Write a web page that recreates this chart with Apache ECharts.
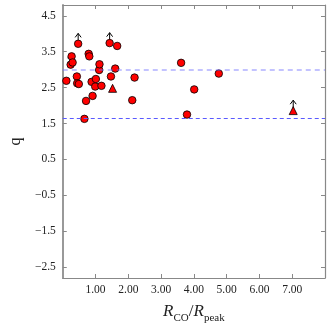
<!DOCTYPE html>
<html>
<head>
<meta charset="utf-8">
<script src="https://cdn.jsdelivr.net/npm/echarts@6/dist/echarts.min.js"></script>
<style>html,body{margin:0;padding:0;background:#fff}#c{width:329px;height:329px}</style>
</head>
<body>
<div id="c"></div>
<script>
// Circle points
var circleX = [0.11, 0.24, 0.27, 0.30, 0.47, 0.43, 0.44, 0.49, 0.79, 0.81, 0.71, 0.66, 0.88, 0.91, 0.99, 1.01, 1.11, 1.12, 1.18, 1.43, 1.47, 1.60, 1.66, 2.12, 2.19, 3.61, 4.76, 4.01, 3.79];
var circleY = [2.69, 3.14, 3.37, 3.20, 3.72, 2.81, 2.62, 2.60, 3.44, 3.37, 2.13, 1.63, 2.66, 2.27, 2.53, 2.74, 2.99, 3.15, 2.55, 3.74, 2.81, 3.03, 3.66, 2.15, 2.78, 3.19, 2.89, 2.45, 1.75];
// Triangle points
var triX = [1.52, 7.03];
var triY = [2.48, 1.86];
// Lower-limit points (arrows pointing up)
var limX = [0.24, 0.47, 1.43, 7.03];
var limY = [3.14, 3.72, 3.74, 1.86];
// Reference lines
var refLines = [3.0, 1.64];
// Tick values
var xTicks = [1, 2, 3, 4, 5, 6, 7];
var yTicks = [-2.5, -1.5, -0.5, 0.5, 1.5, 2.5, 3.5, 4.5];

var arrowLen = 0.29;
var serif = '"Liberation Serif","DejaVu Serif",serif';
var frame = '#888888';

function zip(a, b) { return a.map(function (v, i) { return [v, b[i]]; }); }

var chart = echarts.init(document.getElementById('c'), null, {renderer: 'canvas'});
var axisCommon = {
  axisLine: {show: true, onZero: false, lineStyle: {color: frame, width: 1.2}},
  axisTick: {show: true, inside: true, length: 4, lineStyle: {color: frame, width: 1}},
  splitLine: {show: false}
};
chart.setOption({
  animation: false,
  grid: {left: 45, right: 4, top: 5, bottom: 37, containLabel: false},
  xAxis: [
    Object.assign({}, axisCommon, {
      type: 'value', min: 0, max: 8, position: 'bottom',
      axisTick: Object.assign({}, axisCommon.axisTick, {customValues: xTicks}),
      axisLabel: {customValues: xTicks, color: '#222', fontFamily: serif, fontSize: 11.5, margin: 6,
        formatter: function (v) { return v.toFixed(2); }},
      name: '{i|R}{s|CO}{n|/}{i|R}{s|peak}', nameLocation: 'middle', nameGap: 24,
      nameTextStyle: {
        color: '#222', fontFamily: serif,
        rich: {
          i: {fontFamily: serif, fontStyle: 'italic', fontSize: 17, color: '#222', verticalAlign: 'bottom', lineHeight: 18},
          n: {fontFamily: serif, fontSize: 17, color: '#222', verticalAlign: 'bottom', lineHeight: 18},
          s: {fontFamily: serif, fontSize: 11, color: '#222', verticalAlign: 'bottom', lineHeight: 11, padding: [0, 0, -4, 0]}
        }
      }
    }),
    Object.assign({}, axisCommon, {
      type: 'value', min: 0, max: 8, position: 'top',
      axisTick: Object.assign({}, axisCommon.axisTick, {customValues: xTicks}),
      axisLabel: {show: false}
    })
  ],
  yAxis: [
    Object.assign({}, axisCommon, {
      type: 'value', min: -2.8, max: 4.8, position: 'left',
      axisTick: Object.assign({}, axisCommon.axisTick, {customValues: yTicks}),
      axisLabel: {customValues: yTicks, color: '#222', fontFamily: serif, fontSize: 11.5, margin: 7,
        formatter: function (v) { return (v < 0 ? '\u2212' + Math.abs(v).toFixed(1) : v.toFixed(1)); }},
      axisLine: {show: true, onZero: false, lineStyle: {color: '#999', width: 2}},
      name: 'q', nameLocation: 'middle', nameGap: 33, nameRotate: 90,
      nameTextStyle: {color: '#222', fontFamily: serif, fontSize: 16}
    }),
    Object.assign({}, axisCommon, {
      type: 'value', min: -2.8, max: 4.8, position: 'right',
      axisTick: Object.assign({}, axisCommon.axisTick, {customValues: yTicks}),
      axisLabel: {show: false}
    })
  ],
  series: [
    {
      type: 'line', data: [], silent: true,
      markLine: {
        symbol: 'none', silent: true, label: {show: false},
        data: [
          {yAxis: refLines[0], lineStyle: {color: 'rgba(110,110,255,0.55)', type: [5, 4], width: 1.6}},
          {yAxis: refLines[1], lineStyle: {color: '#5a5aff', type: [4, 3], width: 1}}
        ]
      }
    },
    {
      type: 'custom', z: 1, silent: true,
      data: zip(limX, limY),
      renderItem: function (params, api) {
        var p0 = api.coord([api.value(0), api.value(1)]);
        var p1 = api.coord([api.value(0), api.value(1) + arrowLen]);
        return {
          type: 'group',
          children: [
            {type: 'line', shape: {x1: p0[0], y1: p0[1], x2: p1[0], y2: p1[1]}, style: {stroke: '#000', lineWidth: 1}},
            {type: 'polyline', shape: {points: [[p1[0] - 3, p1[1] + 4], [p1[0], p1[1]], [p1[0] + 3, p1[1] + 4]]}, style: {stroke: '#000', lineWidth: 1, fill: null}}
          ]
        };
      }
    },
    {
      type: 'scatter', z: 3, symbol: 'circle', symbolSize: 7.5,
      data: zip(circleX, circleY),
      itemStyle: {color: '#ff0000', borderColor: '#000', borderWidth: 0.8, opacity: 1}
    },
    {
      type: 'scatter', z: 3, symbol: 'triangle', symbolSize: 8,
      data: zip(triX, triY),
      itemStyle: {color: '#ff0000', borderColor: '#000', borderWidth: 0.8, opacity: 1}
    }
  ]
});
</script>
</body>
</html>
